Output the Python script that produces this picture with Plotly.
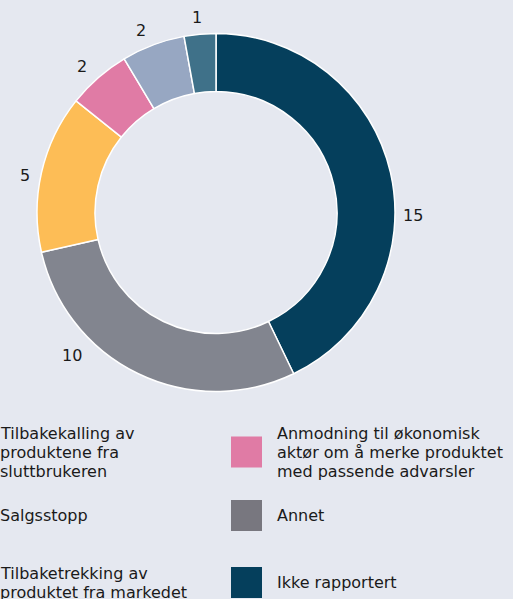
import math
import plotly.graph_objects as go

W, H = 513, 599

# Data
categories = ["Ikke rapportert", "Annet",
              "Tilbaketrekking av produktet fra markedet",
              "Anmodning til økonomisk aktør om å merke produktet med passende advarsler",
              "Salgsstopp",
              "Tilbakekalling av produktene fra sluttbrukeren"]
values = [15, 10, 5, 2, 2, 1]
colors = ["#053f5c", "#82858f", "#fdbd56", "#e07ba5", "#97a7c2", "#3f7189"]

legend_left = ["Tilbakekalling av<br>produktene fra<br>sluttbrukeren", "Salgsstopp",
               "Tilbaketrekking av<br>produktet fra markedet"]
legend_left_colors = ["#3f7189", "#97a7c2", "#fdbd56"]
legend_right = ["Anmodning til økonomisk<br>aktør om å merke produktet<br>med passende advarsler",
                "Annet", "Ikke rapportert"]
legend_right_colors = ["#e07ba5", "#78777f", "#053f5c"]

# layout / style settings
row_centers_px = [452, 515.5, 582.5]
line_gap_px = 19
label_angle_shift = [13.6, 19.4, -2.0, -1.5, -1.7, -0.5]
label_radius = [197, 203, 194, 198, 197, 196]
BG = "#e5e8f0"
FONT = "DejaVu Sans"
TXT = "#1a1a1a"

cx, cy, r = 216, 212.5, 179
fig = go.Figure(go.Pie(
    labels=categories, values=values, sort=False, direction="clockwise",
    rotation=0, hole=0.676,
    marker=dict(colors=colors, line=dict(color="white", width=1.5)),
    textinfo="none",
    domain=dict(x=[(cx - r) / W, (cx + r) / W], y=[1 - (cy + r) / H, 1 - (cy - r) / H]),
    showlegend=False, hoverinfo="label+value",
))

shapes, annotations = [], []

# value labels around the ring, placed from the cumulative values
total = sum(values)
cum = 0
for v, shift, R_lab in zip(values, label_angle_shift, label_radius):
    theta = math.radians((cum + v / 2) / total * 360 + shift)
    cum += v
    lx = cx + R_lab * math.sin(theta)
    ly = cy - R_lab * math.cos(theta)
    annotations.append(dict(text=str(v), xref="paper", yref="paper",
                            x=lx / W, y=1 - ly / H, xanchor="center", yanchor="middle",
                            showarrow=False, font=dict(family=FONT, size=16, color=TXT)))

sw = 31
for col_text_x, labels_, cols_ in [(-2, legend_left, legend_left_colors),
                                     (275, legend_right, legend_right_colors)]:
    sx0 = col_text_x - 44
    for lab, colr, yc in zip(labels_, cols_, row_centers_px):
        shapes.append(dict(type="rect", xref="paper", yref="paper",
                           x0=sx0 / W, x1=(sx0 + sw) / W,
                           y0=1 - (yc + sw / 2) / H, y1=1 - (yc - sw / 2) / H,
                           fillcolor=colr, line=dict(width=0), layer="above"))
        lines = lab.split("<br>")
        n = len(lines)
        for j, ln in enumerate(lines):
            yl = yc + (j - (n - 1) / 2) * line_gap_px
            annotations.append(dict(text=ln, xref="paper", yref="paper",
                                    x=col_text_x / W, y=1 - yl / H,
                                    xanchor="left", yanchor="middle", align="left",
                                    showarrow=False,
                                    font=dict(family=FONT, size=16, color=TXT)))

fig.update_layout(
    width=W, height=H, margin=dict(l=0, r=0, t=0, b=0),
    paper_bgcolor=BG, plot_bgcolor=BG,
    shapes=shapes, annotations=annotations,
)
fig.write_html("out.html", config={"displayModeBar": False},
               post_script="document.body.style.margin='0px';")
